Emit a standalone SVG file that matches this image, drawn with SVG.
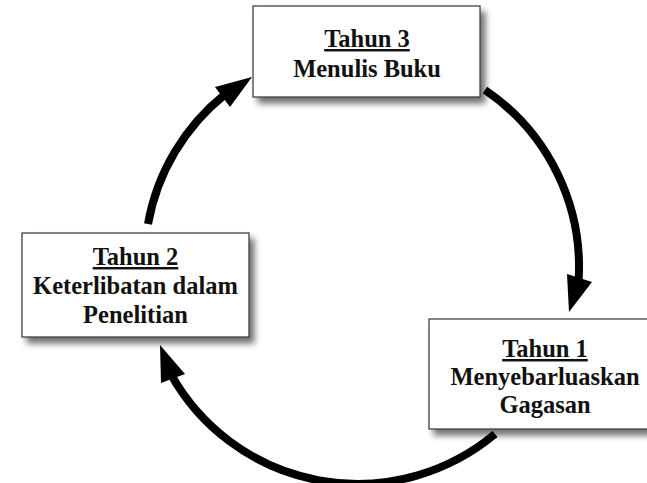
<svg xmlns="http://www.w3.org/2000/svg" width="647" height="483" viewBox="0 0 647 483">
  <defs>
    <filter id="shadow" x="-10%" y="-10%" width="130%" height="140%">
      <feDropShadow dx="5" dy="6" stdDeviation="3" flood-color="#000" flood-opacity="0.55"/>
    </filter>
    <style>
      .box { fill: #ffffff; stroke: #333333; stroke-width: 1.2; filter: url(#shadow); }
      .t { font-family: "Liberation Serif", "Times New Roman", serif; font-weight: bold; font-size: 24.5px; fill: #111111; text-anchor: middle; }
      .u { text-decoration: underline; }
      .arc { fill: none; stroke: #000000; stroke-width: 8; }
      .head { fill: #000000; }
    </style>
  </defs>
  <rect width="647" height="483" fill="#ffffff"/>

  <g id="node-tahun3">
    <rect class="box" x="253" y="6" width="227" height="91"/>
    <text class="t u" x="367" y="47">Tahun 3</text>
    <text class="t" x="367" y="77">Menulis Buku</text>
  </g>

  <g id="node-tahun2">
    <rect class="box" x="22" y="233" width="227" height="104"/>
    <text class="t u" x="135.5" y="265">Tahun 2</text>
    <text class="t" x="135.5" y="294">Keterlibatan dalam</text>
    <text class="t" x="135.5" y="323">Penelitian</text>
  </g>

  <g id="node-tahun1">
    <rect class="box" x="429" y="319" width="232" height="110"/>
    <text class="t u" x="545" y="357">Tahun 1</text>
    <text class="t" x="545" y="385">Menyebarluaskan</text>
    <text class="t" x="545" y="413">Gagasan</text>
  </g>

  <g id="connectors">
    <path class="arc" d="M485 90 A214 214 0 0 1 578.5 282"/>
    <polygon class="head" points="567,274 592,282 569,312"/>
    <path class="arc" d="M495 434 A214 214 0 0 1 171 374.5"/>
    <polygon class="head" points="161,383 185,374 160,345"/>
    <path class="arc" d="M148 224 A214 214 0 0 1 225.5 94"/>
    <polygon class="head" points="215,87 230,107 252,77"/>
  </g>
</svg>
